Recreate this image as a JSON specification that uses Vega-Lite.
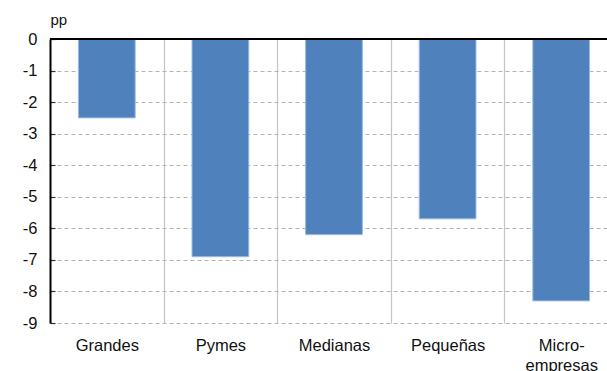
{
  "$schema": "https://vega.github.io/schema/vega-lite/v6.json",
  "width": 557,
  "height": 284,
  "autosize": {"type": "none"},
  "padding": {"left": 50, "top": 39, "right": 0, "bottom": 48},
  "config": {
    "view": {"stroke": null},
    "font": "Liberation Sans",
    "axisY": {"tickCount": 10, "grid": true, "gridDash": [4, 3], "gridColor": "#b3b3b3", "gridWidth": 1.2,
      "domain": true, "domainColor": "#000", "domainWidth": 2, "ticks": true, "tickSize": -5, "tickColor": "#333", "tickWidth": 1.2, "zindex": 2,
      "labelOverlap": false, "labelFontSize": 16.5, "labelColor": "#111", "labelPadding": 18,
      "titleAngle": 0, "titleAlign": "left", "titleBaseline": "bottom", "titleX": 0, "titleY": -12,
      "titleFontSize": 15, "titleFontWeight": "normal", "titleColor": "#111"},
    "axisX": {"grid": true, "tickBand": "extent", "gridColor": "#c4c4c4", "gridWidth": 1.2,
      "ticks": false, "domain": false, "labelAngle": 0, "labelFontSize": 16.5, "labelColor": "#111",
      "labelPadding": 14, "labelLineHeight": 20, "zindex": 0}
  },
  "data": {"values": [
    {"cat": "Grandes", "value": -2.5},
    {"cat": "Pymes", "value": -6.9},
    {"cat": "Medianas", "value": -6.2},
    {"cat": "Pequeñas", "value": -5.7},
    {"cat": "Micro-empresas", "value": -8.3}
  ]},
  "layer": [
    {
      "mark": {"type": "bar", "color": "#4f81bd", "stroke": "#9dbde4", "strokeWidth": 1, "width": {"band": 0.5}},
      "encoding": {
        "x": {"field": "cat", "type": "nominal", "sort": null, "title": null,
          "scale": {"range": [0, 568], "paddingInner": 0, "paddingOuter": 0},
          "axis": {"labelExpr": "datum.value == 'Micro-empresas' ? ['Micro-', 'empresas'] : datum.value"}},
        "y": {"field": "value", "type": "quantitative", "title": "pp",
          "scale": {"domain": [-9, 0], "nice": false, "zero": false},
          "axis": {"labelExpr": "datum.value == 0 ? '0' : '-' + abs(datum.value)"}}
      }
    },
    {
      "mark": {"type": "rule", "color": "#000", "strokeWidth": 1.5},
      "encoding": {"y": {"datum": 0, "type": "quantitative"}}
    }
  ]
}
